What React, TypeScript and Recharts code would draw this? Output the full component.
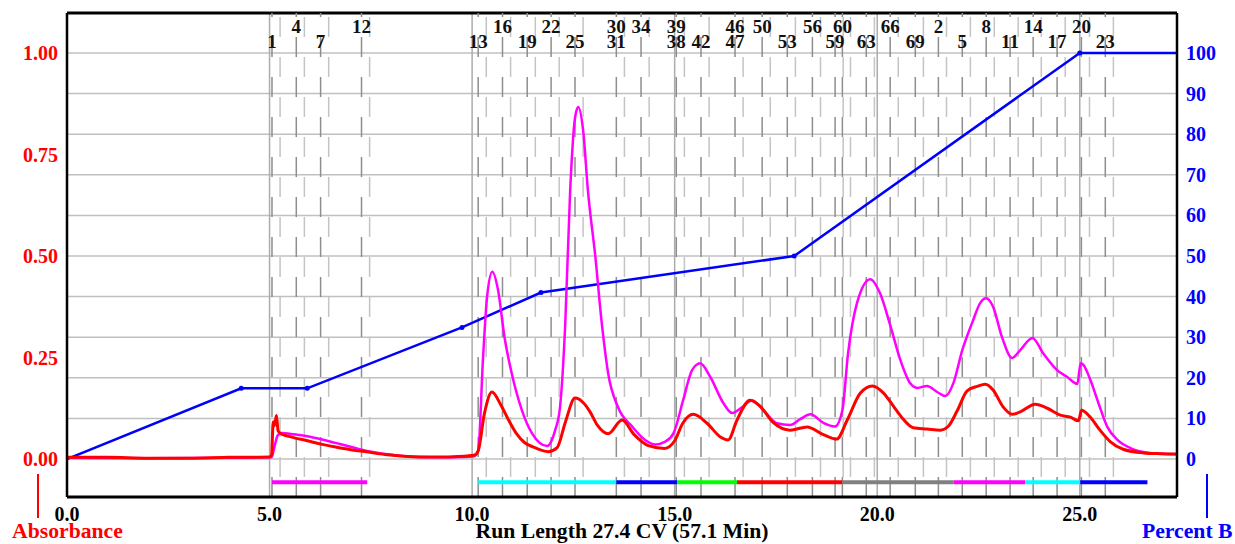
import React from 'react';
import { LineChart, Line, XAxis, YAxis, ReferenceLine } from 'recharts';

const FONT = '"Liberation Serif", "Times New Roman", serif';

// axis ticks
const xTicks = [0, 5, 10, 15, 20, 25];
const absTicks = [0, 0.25, 0.5, 0.75, 1.0];
const pctTicks = [0, 10, 20, 30, 40, 50, 60, 70, 80, 90, 100];
const xDomain: [number, number] = [0, 27.4];
const absDomain: [number, number] = [-0.0936, 1.0985];
const pctDomain: [number, number] = [-9.36, 109.85];

// gradient program (CV, %B)
const gradient: [number, number][] = [
  [0, 0], [4.3, 17.4], [5.93, 17.4], [9.75, 32.4], [11.7, 41], [17.95, 50], [25.0, 100], [27.4, 100],
];

// absorbance traces (CV, AU)
const uvMagenta: [number, number][] = [
  [0, 0.003], [2, 0.002], [4, 0.003], [5.05, 0.004], [5.12, 0.03], [5.2, 0.058], [5.28, 0.064],
  [5.6, 0.061], [6.0, 0.055], [6.3, 0.048], [6.65, 0.039], [7.0, 0.03], [7.3, 0.022], [7.8, 0.013],
  [8.7, 0.005], [9.3, 0.004], [9.8, 0.005], [10.05, 0.007], [10.15, 0.02], [10.27, 0.25], [10.37, 0.4],
  [10.5, 0.461], [10.64, 0.416], [10.8, 0.3], [10.98, 0.21], [11.23, 0.12], [11.48, 0.063], [11.85, 0.032],
  [12.05, 0.071], [12.17, 0.128], [12.3, 0.335], [12.42, 0.66], [12.54, 0.84], [12.62, 0.867], [12.74, 0.81],
  [12.86, 0.66], [13.04, 0.5], [13.2, 0.335], [13.36, 0.21], [13.6, 0.128], [13.95, 0.08], [14.27, 0.047],
  [14.52, 0.036], [14.77, 0.043], [14.97, 0.063], [15.21, 0.145], [15.43, 0.219], [15.63, 0.236],
  [15.88, 0.202], [16.2, 0.138], [16.42, 0.113], [16.67, 0.128], [16.91, 0.145], [17.19, 0.12],
  [17.53, 0.088], [17.85, 0.084], [18.1, 0.098], [18.35, 0.11], [18.67, 0.089], [18.96, 0.08],
  [19.14, 0.12], [19.28, 0.26], [19.5, 0.384], [19.83, 0.443], [20.07, 0.408], [20.32, 0.33],
  [20.57, 0.244], [20.81, 0.187], [20.99, 0.175], [21.23, 0.18], [21.48, 0.165], [21.68, 0.155],
  [21.88, 0.187], [22.1, 0.268], [22.35, 0.337], [22.54, 0.384], [22.69, 0.396], [22.86, 0.375],
  [23.08, 0.3], [23.33, 0.249], [23.53, 0.268], [23.83, 0.298], [24.1, 0.26], [24.44, 0.219],
  [24.69, 0.202], [24.94, 0.185], [25.02, 0.236], [25.09, 0.232], [25.26, 0.195], [25.46, 0.138],
  [25.68, 0.079], [25.93, 0.047], [26.25, 0.027], [26.74, 0.015], [27.4, 0.012],
];

const uvRed: [number, number][] = [
  [0, 0.004], [1, 0.004], [2, 0.002], [3, 0.002], [4, 0.004], [5.0, 0.005], [5.05, 0.01],
  [5.09, 0.092], [5.12, 0.082], [5.17, 0.107], [5.21, 0.07], [5.28, 0.062], [5.5, 0.055],
  [5.93, 0.045], [6.3, 0.036], [6.6, 0.03], [7.0, 0.023], [7.3, 0.019], [7.85, 0.011], [8.7, 0.005],
  [9.3, 0.005], [9.8, 0.007], [10.05, 0.009], [10.15, 0.02], [10.3, 0.11], [10.49, 0.165],
  [10.7, 0.135], [10.9, 0.096], [11.1, 0.062], [11.3, 0.04], [11.5, 0.03], [11.88, 0.018],
  [12.1, 0.028], [12.3, 0.09], [12.54, 0.15], [12.75, 0.138], [12.9, 0.118], [13.1, 0.082],
  [13.36, 0.062], [13.7, 0.096], [14.0, 0.06], [14.35, 0.033], [14.75, 0.026], [15.0, 0.045],
  [15.2, 0.088], [15.46, 0.11], [15.8, 0.088], [16.12, 0.055], [16.32, 0.047], [16.54, 0.096],
  [16.86, 0.145], [17.11, 0.13], [17.43, 0.09], [17.85, 0.071], [18.27, 0.079], [18.67, 0.06],
  [19.0, 0.049], [19.26, 0.096], [19.58, 0.162], [19.88, 0.18], [20.15, 0.163], [20.4, 0.13],
  [20.6, 0.103], [20.89, 0.077], [21.23, 0.074], [21.56, 0.071], [21.75, 0.08], [21.98, 0.12],
  [22.22, 0.168], [22.47, 0.179], [22.67, 0.184], [22.86, 0.17], [23.11, 0.128], [23.33, 0.11],
  [23.53, 0.116], [23.9, 0.135], [24.2, 0.125], [24.52, 0.108], [24.77, 0.103], [24.97, 0.094],
  [25.04, 0.12], [25.26, 0.103], [25.5, 0.071], [25.75, 0.043], [26.07, 0.024], [26.57, 0.015],
  [27.0, 0.013], [27.4, 0.012],
];

// fraction markers
const fractionNums = [1, 4, 7, 12, 13, 16, 19, 22, 25, 30, 31, 34, 39, 38, 42, 46, 47, 50, 53, 56, 59, 60, 63, 66, 69, 2, 5, 8, 11, 14, 17, 20, 23];
const fractionPos = [5.06, 5.66, 6.26, 7.27, 10.15, 10.75, 11.36, 11.95, 12.54, 13.56, 13.56, 14.17, 15.04, 15.04, 15.65, 16.49, 16.49, 17.16, 17.78, 18.4, 18.96, 19.14, 19.73, 20.32, 20.94, 21.51, 22.1, 22.69, 23.28, 23.85, 24.44, 25.04, 25.63];
const fractionRow = [2, 1, 2, 1, 2, 1, 2, 1, 2, 1, 2, 1, 1, 2, 2, 1, 2, 1, 2, 1, 2, 1, 2, 1, 2, 1, 2, 1, 2, 1, 2, 1, 2];

// collection bars under the trace
const barStart = [5.06, 10.15, 13.56, 15.06, 16.54, 19.14, 21.88, 23.65, 25.01];
const barEnd = [7.41, 13.56, 15.06, 16.54, 19.14, 21.88, 23.65, 25.01, 26.67];
const barColor = ['#ff00ff', '#00ffff', '#0000ff', '#00ff00', '#ff0000', '#808080', '#ff00ff', '#00ffff', '#0000ff'];
const barLevel = -0.057;

const toRows = (pts: [number, number][]) => pts.map(([x, v]) => ({ x, v }));

const tickStyle = { fontFamily: FONT, fontWeight: 700, fontSize: 20 };
const titleStyle = { fontFamily: FONT, fontWeight: 700, fontSize: 21.7 };

const App: React.FC = () => {
  const gradRows = toRows(gradient);
  const lastIdx = gradRows.length - 1;
  const uniqueX = Array.from(new Set(fractionPos));

  return (
    <div style={{ position: 'absolute', left: 0, top: 0, background: '#fff' }}>
      <LineChart width={1235} height={544} margin={{ top: 13, right: 8, left: 7, bottom: 0 }}>
        <XAxis
          type="number"
          dataKey="x"
          domain={xDomain}
          ticks={xTicks}
          allowDataOverflow
          tickFormatter={(v: number) => v.toFixed(1)}
          tick={{ ...tickStyle, fill: '#000' }}
          tickLine={false}
          tickSize={0}
          tickMargin={10}
          height={47}
          axisLine={{ stroke: '#000', strokeWidth: 3 }}
          label={{ value: 'Run Length 27.4 CV (57.1 Min)', position: 'insideBottom', offset: 6, style: { ...titleStyle, fill: '#000' } }}
        />
        <YAxis
          yAxisId="abs"
          orientation="left"
          domain={absDomain}
          ticks={absTicks}
          allowDataOverflow
          width={60}
          tickFormatter={(v: number) => v.toFixed(2)}
          tick={{ ...tickStyle, fill: '#ff0000' }}
          tickLine={false}
          tickSize={0}
          tickMargin={9}
          axisLine={{ stroke: '#000', strokeWidth: 2.5 }}
          label={() => (
            <g>
              <line x1={38} y1={474} x2={38} y2={518} stroke="#ff0000" strokeWidth={2} />
              <text x={12} y={538} fill="#ff0000" style={titleStyle}>Absorbance</text>
            </g>
          )}
        />
        <YAxis
          yAxisId="pct"
          orientation="right"
          domain={pctDomain}
          ticks={pctTicks}
          allowDataOverflow
          width={50}
          tick={{ ...tickStyle, fill: '#0000ff' }}
          tickLine={false}
          tickSize={0}
          tickMargin={9}
          axisLine={{ stroke: '#000', strokeWidth: 2.5 }}
          label={() => (
            <g>
              <line x1={1207} y1={474} x2={1207} y2={518} stroke="#0000ff" strokeWidth={2} />
              <text x={1142} y={538} fill="#0000ff" style={titleStyle}>Percent B</text>
            </g>
          )}
        />

        {/* grid */}
        {pctTicks.map((t) => (
          <ReferenceLine key={'h' + t} yAxisId="pct" y={t} stroke="#c0c0c0" strokeWidth={1.5} />
        ))}
        {xTicks.slice(1).map((t) => (
          <ReferenceLine key={'v' + t} yAxisId="abs" x={t} stroke="#acacac" strokeWidth={1.5} />
        ))}
        <ReferenceLine yAxisId="abs" y={absDomain[1]} stroke="#000" strokeWidth={3} ifOverflow="visible" />

        {/* fraction cut lines */}
        {uniqueX.map((p) => (
          <ReferenceLine key={'fl' + p} yAxisId="abs" x={p + 0.2} stroke="#c4c4c4" strokeWidth={1.5} strokeDasharray="20 20" strokeDashoffset={20} />
        ))}
        {uniqueX.map((p) => (
          <ReferenceLine key={'fd' + p} yAxisId="abs" x={p} stroke="#8e8e8e" strokeWidth={1.5} strokeDasharray="20 20" />
        ))}
        {fractionNums.map((n, i) => (
          <ReferenceLine
            key={'fn' + i}
            yAxisId="abs"
            x={fractionPos[i]}
            stroke="none"
            label={(props: any) => (
              <text
                x={props.viewBox ? props.viewBox.x : 0}
                y={fractionRow[i] === 1 ? 33 : 48}
                textAnchor="middle"
                fill="#111"
                style={{ fontFamily: FONT, fontWeight: 700, fontSize: 19 }}
              >
                {n}
              </text>
            )}
          />
        ))}

        {/* collection bars */}
        {barStart.map((s, i) => (
          <ReferenceLine
            key={'bar' + i}
            yAxisId="abs"
            segment={[{ x: s, y: barLevel }, { x: barEnd[i], y: barLevel }]}
            stroke={barColor[i]}
            strokeWidth={4}
          />
        ))}

        <Line
          yAxisId="pct"
          data={gradRows}
          dataKey="v"
          type="linear"
          stroke="#0000ff"
          strokeWidth={2.5}
          isAnimationActive={false}
          dot={(p: any) =>
            p.index > 0 && p.index < lastIdx ? (
              <circle key={'d' + p.index} cx={p.cx} cy={p.cy} r={2.5} fill="#0000ff" />
            ) : (
              <g key={'d' + p.index} />
            )
          }
        />
        <Line yAxisId="abs" data={toRows(uvMagenta)} dataKey="v" type="monotone" stroke="#ff00ff" strokeWidth={2.5} dot={false} isAnimationActive={false} />
        <Line yAxisId="abs" data={toRows(uvRed)} dataKey="v" type="monotone" stroke="#ff0000" strokeWidth={3} dot={false} isAnimationActive={false} />
      </LineChart>
    </div>
  );
};

export default App;
